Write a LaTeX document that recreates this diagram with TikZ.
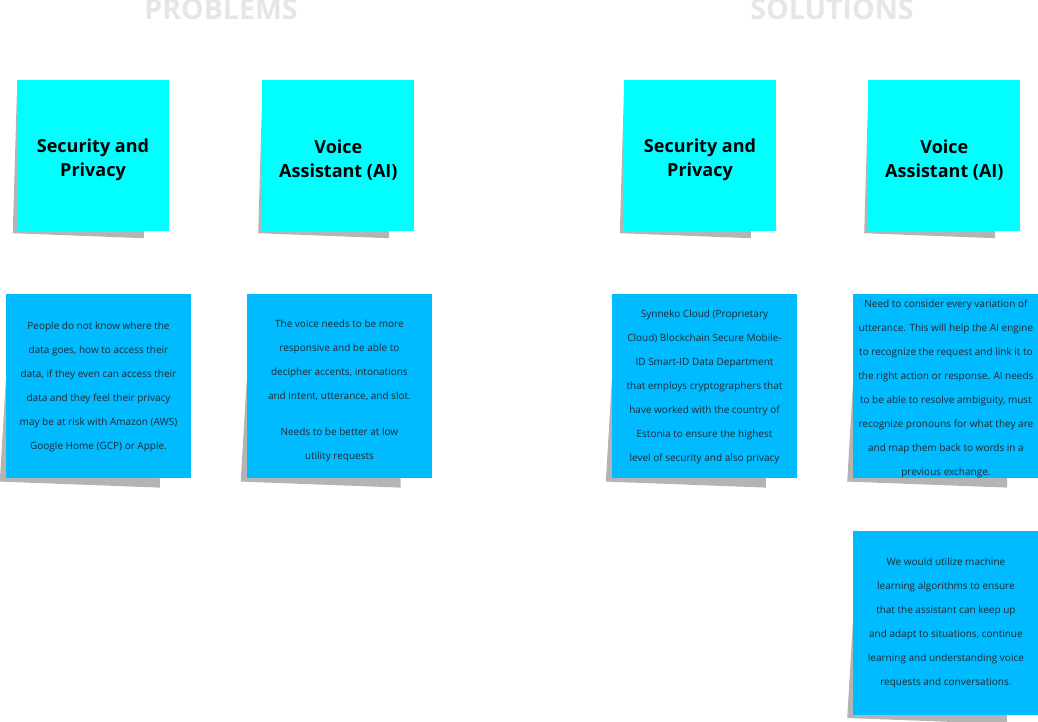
\documentclass[tikz,border=0pt]{standalone}
\usepackage{fontspec}
\setmainfont{Open Sans}
\usetikzlibrary{positioning, calc, backgrounds}

\definecolor{notecyan}{HTML}{00FFFF}
\definecolor{noteblue}{HTML}{00BBFF}
\definecolor{noteshadow}{HTML}{B4B4B4}
\definecolor{headgray}{HTML}{E6E6E6}
\definecolor{notetext}{HTML}{1F2A33}

\newcommand{\topicshadow}[1]{\fill[shadow] ($(#1.south west)+(0,-136)$) -- ($(#1.south west)+(-4,2)$) -- ($(#1.south west)+(127,7)$) -- ($(#1.south west)+(127,0)$) -- cycle;}
\newcommand{\detailshadow}[1]{\fill[shadow] ($(#1.south west)+(0,-98)$) -- ($(#1.south west)+(-6,3)$) -- ($(#1.south west)+(154,9)$) -- ($(#1.south west)+(154,0)$) -- cycle;}

\begin{document}
\begin{tikzpicture}[x=1pt, y=-1pt]

\tikzstyle{topic} = [rectangle, fill=notecyan, minimum width=152pt, minimum height=151pt, inner sep=0pt, align=center, text height=46pt, font=\fontsize{18}{24}\selectfont\bfseries]
\tikzstyle{detail} = [rectangle, fill=noteblue, minimum width=185pt, minimum height=184pt, inner sep=0pt, align=center, text=notetext, font=\fontsize{10}{24}\selectfont]
\tikzstyle{heading} = [anchor=base, text=headgray, font=\fontsize{28.5}{28.5}\selectfont\bfseries]
\tikzstyle{shadow} = [fill=noteshadow]

\useasboundingbox (0,0) rectangle (1038,722);

\node (hprob) [heading] at (221,20) {PROBLEMS};
\node (hsol) [heading] at (832,20) {SOLUTIONS};

\node (secp) [topic] at (93,155.5) {Security and\\Privacy};
\node (voicep) [topic, right=93pt of secp] {Voice\\Assistant (AI)};
\node (secs) [topic] at (700,155.5) {Security and\\Privacy};
\node (voices) [topic, right=92pt of secs] {Voice\\Assistant (AI)};

\node (datap) [detail, below=63pt of secp, xshift=5.5pt] {People do not know where the\\data goes, how to access their\\data, if they even can access their\\data and they feel their privacy\\may be at risk with Amazon (AWS)\\Google Home (GCP) or Apple.};
\node (accentp) [detail, below=63pt of voicep, xshift=1pt, text height=148pt] {The voice needs to be more\\responsive and be able to\\decipher accents, intonations\\and intent, utterance, and slot.\\[12pt]Needs to be better at low\\utility requests};
\node (clouds) [detail, below=63pt of secs, xshift=4.5pt] {Synneko Cloud (Proprietary\\Cloud) Blockchain Secure Mobile-\\ID Smart-ID Data Department\\that employs cryptographers that\\have worked with the country of\\Estonia to ensure the highest\\level of security and also privacy};
\node (utters) [detail, below=63pt of voices, xshift=1.5pt, text height=181.5pt] {Need to consider every variation of\\utterance. This will help the AI engine\\to recognize the request and link it to\\the right action or response. AI needs\\to be able to resolve ambiguity, must\\recognize pronouns for what they are\\and map them back to words in a\\previous exchange.};
\node (learns) [detail, below=52pt of utters] {We would utilize machine\\learning algorithms to ensure\\that the assistant can keep up\\and adapt to situations, continue\\learning and understanding voice\\requests and conversations.};

\begin{scope}[on background layer]
\foreach \n in {secp, voicep, secs, voices} {\topicshadow{\n}}
\foreach \n in {datap, accentp, clouds, utters, learns} {\detailshadow{\n}}
\end{scope}
\end{tikzpicture}
\end{document}
